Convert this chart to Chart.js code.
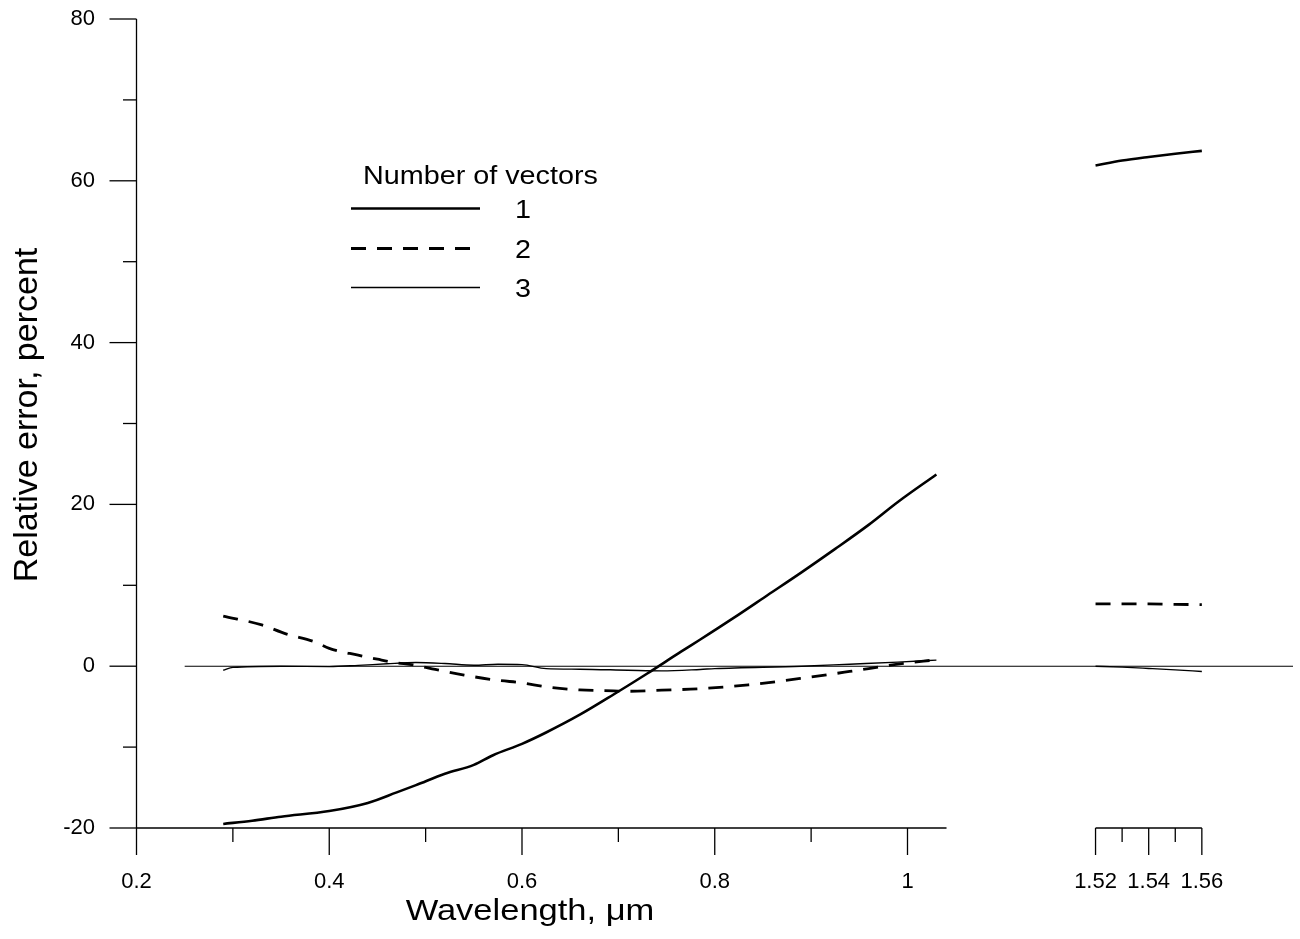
<!DOCTYPE html>
<html>
<head>
<meta charset="utf-8">
<title>Relative error vs wavelength</title>
<script src="https://cdn.jsdelivr.net/npm/chart.js@4.4.1/dist/chart.umd.min.js"></script>
<style>
    html, body { margin: 0; padding: 0; background: #fff; }
    #wrap { width: 1300px; height: 939px; }
</style>
</head>
<body>
<div id="wrap"><canvas id="errorChart" width="1300" height="939"></canvas></div>
<script>
// Datos (longitud de onda en µm, error relativo en %)
const wl1Main = [0.29, 0.32, 0.35, 0.40, 0.44, 0.47, 0.49, 0.52, 0.55, 0.57, 0.60, 0.625, 0.66, 0.695, 0.73, 0.765, 0.785, 0.82, 0.855, 0.89, 0.925, 0.96, 0.99, 1.03];
const err1Main = [-19.5, -19.1, -18.6, -17.9, -16.9, -15.6, -14.7, -13.3, -12.2, -11.0, -9.6, -8.2, -6.0, -3.5, -0.9, 1.8, 3.3, 6.0, 8.8, 11.6, 14.5, 17.5, 20.3, 23.7];

const wl2Main = [0.29, 0.33, 0.355, 0.385, 0.40, 0.43, 0.45, 0.465, 0.49, 0.51, 0.54, 0.575, 0.60, 0.625, 0.66, 0.695, 0.71, 0.745, 0.785, 0.835, 0.89, 0.94, 0.99, 1.03];
const err2Main = [6.2, 5.1, 4.0, 3.0, 2.2, 1.36, 0.86, 0.5, 0.1, -0.4, -1.1, -1.75, -2.05, -2.55, -2.93, -3.05, -3.1, -2.96, -2.78, -2.3, -1.5, -0.65, 0.25, 0.8];

const wl3Main = [0.29, 0.30, 0.35, 0.40, 0.43, 0.46, 0.49, 0.52, 0.55, 0.575, 0.60, 0.625, 0.66, 0.71, 0.745, 0.785, 0.80, 0.89, 0.94, 0.99, 1.03];
const err3Main = [-0.5, -0.15, 0.0, -0.05, 0.1, 0.3, 0.45, 0.33, 0.12, 0.25, 0.2, -0.3, -0.37, -0.5, -0.58, -0.4, -0.3, 0.0, 0.25, 0.5, 0.75];

// Tramo de 1.52 a 1.56 µm
const wlTail = [1.52, 1.53, 1.54, 1.55, 1.56];
const err1Tail = [61.9, 62.5, 62.95, 63.35, 63.7];
const err2Tail = [7.7, 7.7, 7.7, 7.65, 7.6];
const err3Tail = [0.0, -0.12, -0.28, -0.45, -0.65];

// Línea de cero
const zeroWl = [0.25, 1.595];
const zeroErr = [0, 0];

// Ejes
const xMajorTicks = [0.2, 0.4, 0.6, 0.8, 1.0, 1.52, 1.54, 1.56];
const xTickLabels = ['0.2', '0.4', '0.6', '0.8', '1', '1.52', '1.54', '1.56'];
const xMinorTicks = [0.3, 0.5, 0.7, 0.9, 1.53, 1.55];
const xAxisPieces = [[0.2, 1.0405], [1.52, 1.56]];
const yMajorTicks = [-20, 0, 20, 40, 60, 80];
const yTickLabels = ['-20', '0', '20', '40', '60', '80'];
const yMinorTicks = [-10, 10, 30, 50, 70];

const legendTitle = 'Number of vectors';
const legendLabels = ['1', '2', '3'];

// Eje x partido: de 1.52 en adelante la escala se estira
const breakAt = 1.3;
const tailOrigin = 1.52;
const tailPos = 1.19512;
const tailStretch = 2.7576;

function toVirtual(v) {
    return v < breakAt ? v : tailPos + (v - tailOrigin) * tailStretch;
}
function toReal(v) {
    return v < tailPos ? v : tailOrigin + (v - tailPos) / tailStretch;
}

// Escala lineal con min/max en µm reales, pero píxeles según el eje partido
class SplitLinearScale extends Chart.LinearScale {
    configure() {
        super.configure();
        this._startValue = toVirtual(this.min);
        this._endValue = toVirtual(this.max);
        this._valueRange = this._endValue - this._startValue;
    }
    getPixelForValue(value) {
        return super.getPixelForValue(toVirtual(value));
    }
    getValueForPixel(pixel) {
        return toReal(super.getValueForPixel(pixel));
    }
}
SplitLinearScale.id = 'splitLinear';
SplitLinearScale.defaults = {};
Chart.register(SplitLinearScale);

const fontFamily = '"Liberation Sans", Arial, sans-serif';
const textStretch = 1.15;

function pairs(xs, ys) {
    return xs.map((x, i) => ({ x: x, y: ys[i] }));
}

function lineSet(label, xs, ys, width, dash) {
    return {
        label: label,
        data: pairs(xs, ys),
        borderColor: '#000',
        borderWidth: width,
        borderDash: dash || [],
        pointRadius: 0,
        fill: false,
        cubicInterpolationMode: 'monotone'
    };
}

const seriesStyle = [
    { width: 2.6, dash: [] },
    { width: 2.8, dash: [15, 11] },
    { width: 1.4, dash: [] }
];

function drawText(ctx, text, x, y, size, align, stretch) {
    ctx.save();
    ctx.translate(x, y);
    ctx.scale(stretch, 1);
    ctx.font = size + 'px ' + fontFamily;
    ctx.textAlign = align;
    ctx.textBaseline = 'alphabetic';
    ctx.fillStyle = '#000';
    ctx.fillText(text, 0, 0);
    ctx.restore();
}

function segment(ctx, x1, y1, x2, y2) {
    ctx.beginPath();
    ctx.moveTo(x1, y1);
    ctx.lineTo(x2, y2);
    ctx.stroke();
}

// Ejes, marcas, leyenda y títulos
const axisArtist = {
    id: 'axisArtist',
    afterDraw(chart) {
        const { ctx, scales: { x, y } } = chart;
        const base = y.getPixelForValue(yMajorTicks[0]);
        const left = x.getPixelForValue(xMajorTicks[0]);
        ctx.save();
        ctx.strokeStyle = '#000';
        ctx.lineWidth = 1.3;
        ctx.setLineDash([]);

        // eje y
        segment(ctx, left, y.getPixelForValue(80), left, base);
        yMajorTicks.forEach(v => {
            const py = y.getPixelForValue(v);
            segment(ctx, left - 27, py, left, py);
        });
        yMinorTicks.forEach(v => {
            const py = y.getPixelForValue(v);
            segment(ctx, left - 13.5, py, left, py);
        });

        // eje x en dos tramos
        xAxisPieces.forEach(p => {
            segment(ctx, x.getPixelForValue(p[0]), base, x.getPixelForValue(p[1]), base);
        });
        xMajorTicks.forEach(v => {
            const px = x.getPixelForValue(v);
            segment(ctx, px, base, px, base + 27);
        });
        xMinorTicks.forEach(v => {
            const px = x.getPixelForValue(v);
            segment(ctx, px, base, px, base + 14);
        });

        // leyenda
        drawText(ctx, legendTitle, 363, 183.5, 25, 'left', textStretch);
        const rows = [208.5, 248.5, 287.5];
        legendLabels.forEach((lab, i) => {
            ctx.lineWidth = seriesStyle[i].width;
            ctx.setLineDash(seriesStyle[i].dash);
            segment(ctx, 351, rows[i], 480, rows[i]);
            ctx.setLineDash([]);
            drawText(ctx, lab, 515, rows[i] + 9, 25, 'left', textStretch);
        });

        // títulos de los ejes
        drawText(ctx, 'Wavelength, \u03bcm', 530, 920, 30, 'center', textStretch);
        ctx.save();
        ctx.translate(37, 415);
        ctx.rotate(-Math.PI / 2);
        ctx.font = '34px ' + fontFamily;
        ctx.textAlign = 'center';
        ctx.textBaseline = 'alphabetic';
        ctx.fillStyle = '#000';
        ctx.fillText('Relative error, percent', 0, 0);
        ctx.restore();

        ctx.restore();
    }
};

const ctx = document.getElementById('errorChart').getContext('2d');
const errorChart = new Chart(ctx, {
    type: 'line',
    data: {
        datasets: [
            lineSet('zero', zeroWl, zeroErr, 1.1),
            lineSet('1', wl1Main, err1Main, seriesStyle[0].width, seriesStyle[0].dash),
            lineSet('1', wlTail, err1Tail, seriesStyle[0].width, seriesStyle[0].dash),
            lineSet('2', wl2Main, err2Main, seriesStyle[1].width, seriesStyle[1].dash),
            lineSet('2', wlTail, err2Tail, seriesStyle[1].width, seriesStyle[1].dash),
            lineSet('3', wl3Main, err3Main, seriesStyle[2].width, seriesStyle[2].dash),
            lineSet('3', wlTail, err3Tail, seriesStyle[2].width, seriesStyle[2].dash)
        ]
    },
    options: {
        responsive: false,
        animation: false,
        layout: { padding: { top: 19, right: 7, left: 0, bottom: 0 } },
        plugins: {
            legend: { display: false },
            tooltip: { enabled: false }
        },
        scales: {
            x: {
                type: 'splitLinear',
                min: 0.2,
                max: 1.5943,
                grid: { display: false, drawTicks: true, tickLength: 41 },
                border: { display: false },
                afterBuildTicks: s => { s.ticks = xMajorTicks.map(v => ({ value: v })); },
                afterFit: s => { s.height = 111; },
                ticks: {
                    autoSkip: false,
                    maxRotation: 0,
                    padding: 0,
                    color: '#000',
                    font: { family: fontFamily, size: 22 },
                    callback: (v, i) => xTickLabels[i]
                }
            },
            y: {
                type: 'linear',
                min: -20,
                max: 80,
                grid: { display: false, drawTicks: true, tickLength: 41.5 },
                border: { display: false },
                afterBuildTicks: s => { s.ticks = yMajorTicks.map(v => ({ value: v })); },
                afterFit: s => { s.width = 136.5; },
                ticks: {
                    padding: 0,
                    color: '#000',
                    font: { family: fontFamily, size: 22 },
                    callback: (v, i) => yTickLabels[i]
                }
            }
        }
    },
    plugins: [axisArtist]
});
</script>
</body>
</html>
